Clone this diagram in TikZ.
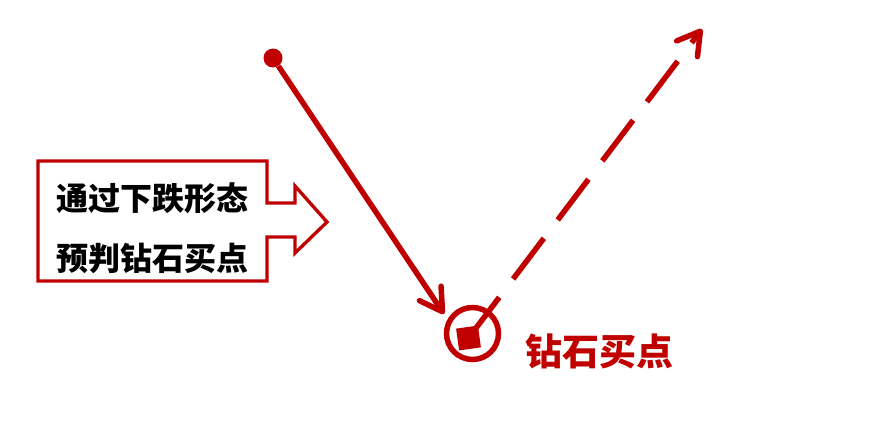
\documentclass[tikz,border=0pt]{standalone}
\usepackage{fontspec}
\newfontfamily\cjk{Noto Sans CJK SC}
\usetikzlibrary{arrows.meta}
\definecolor{darkred}{HTML}{C00000}

\begin{document}
\begin{tikzpicture}[x=1pt, y=-1pt,
        redline/.style={draw=darkred, line width=5.5pt},
        barb/.style={-{Straight Barb[length=22pt, width=26pt, round]}},
        label/.style={inner sep=0pt, font=\cjk\bfseries\fontsize{32}{32}\selectfont}]
            \useasboundingbox (0,0) rectangle (874,436);

            \node[circle, fill=darkred, minimum size=19pt, inner sep=0pt] (dot) at (273,58) {};
            \node[circle, redline, minimum size=52pt, inner sep=0pt] (ring) at (472.5,333.5) {};
            \node[rectangle, fill=darkred, minimum size=22pt, inner sep=0pt, rotate=8] (gem) at (468.5,338) {};
            \coordinate (hit) at (444,314);
            \coordinate (tip) at (702,29);

            \draw[redline, barb] (dot) -- (hit);
            \draw[redline, barb, line cap=butt, dash pattern=on 51pt off 23pt] (gem.center) -- (tip);

            \draw[darkred, line width=3.3pt] (38,161) -- (267,161) -- (267,203) -- (295,203) -- (295,186)
                -- (327,222) -- (295,253) -- (295,237) -- (267,237) -- (267,281) -- (38,281) -- cycle;

            \node[label] (line1) at (152,198) {通过下跌形态};
            \node[label] (line2) at (152,258) {预判钻石买点};
            \node[label, text=darkred, font=\cjk\bfseries\fontsize{37}{37}\selectfont] (buy) at (599,351) {钻石买点};
        \end{tikzpicture}
\end{document}
